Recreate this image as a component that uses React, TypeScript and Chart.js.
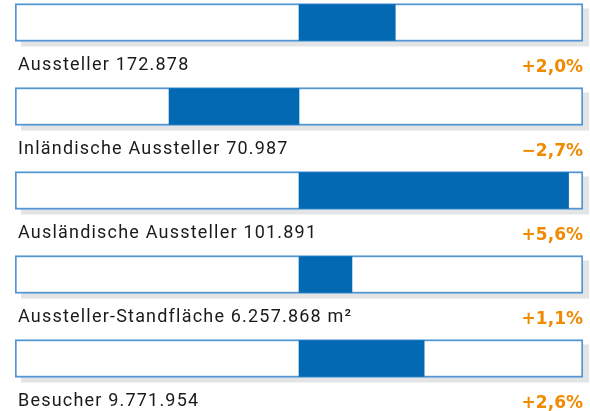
import React, { useEffect, useRef } from "react";
import { Chart, registerables } from "chart.js";

Chart.register(...registerables);

const labels = [
  "Aussteller 172.878",
  "Inländische Aussteller 70.987",
  "Ausländische Aussteller 101.891",
  "Aussteller-Standfläche 6.257.868 m²",
  "Besucher 9.771.954",
];
const changes = [2.0, -2.7, 5.6, 1.1, 2.6];
const changeLabels = ["+2,0%", "−2,7%", "+5,6%", "+1,1%", "+2,6%"];
const positions = [0, 1, 2, 3, 4];
const axisMin = -5.9;
const axisMax = 5.9;

const BLUE = "#0369b3";
const BORDER = "#5297d2";
const ORANGE = "#f08a00";
const SHADOW = "#e3e4e5";
const TEXT = "#1a1a1a";
const FONT = "Roboto, 'Open Sans', sans-serif";
const PCT_FONT = "'DejaVu Sans', sans-serif";

const textPlugin = {
  id: "boxesAndLabels",
  beforeDatasetsDraw(chart: any) {
    const ctx = chart.ctx;
    const meta = chart.getDatasetMeta(0);
    ctx.save();
    ctx.fillStyle = SHADOW;
    meta.data.forEach((el: any) => {
      const p = el.getProps(["x", "y", "base", "height"], true);
      const left = Math.min(p.x, p.base);
      const right = Math.max(p.x, p.base);
      ctx.fillRect(left + 6, p.y - p.height / 2 + 5, right - left, p.height);
    });
    ctx.restore();
  },
  afterDatasetsDraw(chart: any) {
    const ctx = chart.ctx;
    const meta = chart.getDatasetMeta(0);
    ctx.save();
    ctx.textBaseline = "alphabetic";
    meta.data.forEach((el: any, i: number) => {
      const p = el.getProps(["x", "y", "base", "height"], true);
      const left = Math.min(p.x, p.base);
      const right = Math.max(p.x, p.base);
      ctx.font = `18px ${FONT}`;
      (ctx as any).letterSpacing = "1.2px";
      ctx.fillStyle = TEXT;
      ctx.textAlign = "left";
      ctx.fillText(labels[i], left + 3, p.y + 47);
      (ctx as any).letterSpacing = "0px";
      ctx.font = `bold 17px ${PCT_FONT}`;
      ctx.fillStyle = ORANGE;
      ctx.textAlign = "right";
      ctx.fillText(changeLabels[i], right, p.y + 49.5);
    });
    ctx.restore();
  },
};

export default function App() {
  const ref = useRef<HTMLCanvasElement>(null);
  useEffect(() => {
    document.body.style.margin = "0";
    const chart = new Chart(ref.current!, {
      type: "bar",
      data: {
        datasets: [
          {
            data: positions.map((p) => ({ x: [axisMin, axisMax], y: p })) as any,
            backgroundColor: "#ffffff",
            borderColor: BORDER,
            borderWidth: 2,
            borderSkipped: false,
            barThickness: 38,
            grouped: false,
            order: 2,
          },
          {
            data: positions.map((p, i) => ({ x: [0, changes[i]], y: p })) as any,
            backgroundColor: BLUE,
            borderWidth: 0,
            barThickness: 36,
            grouped: false,
            order: 1,
          },
        ],
      },
      options: {
        indexAxis: "y",
        animation: false,
        responsive: false,
        layout: { padding: { left: 15, right: 7, top: 0, bottom: 0 } },
        scales: {
          x: { type: "linear", bounds: "data", offset: false, min: axisMin, max: axisMax, display: false },
          y: {
            type: "linear",
            bounds: "data",
            offset: false,
            reverse: true,
            min: -22.5 / 84,
            max: (411 - 22.5) / 84,
            display: false,
          },
        },
        plugins: { legend: { display: false }, tooltip: { enabled: false } },
      },
      plugins: [textPlugin],
    });
    return () => chart.destroy();
  }, []);
  return <canvas ref={ref} width={590} height={411} style={{ display: "block" }} />;
}
